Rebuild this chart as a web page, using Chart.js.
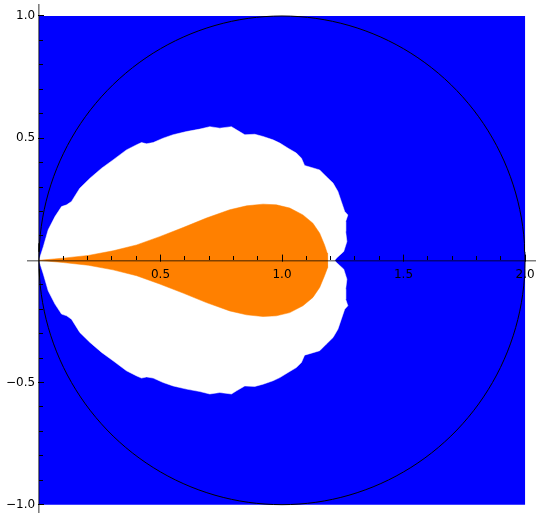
<!DOCTYPE html>
<html>
<head>
<meta charset="utf-8">
<script src="https://cdn.jsdelivr.net/npm/chart.js@4/dist/chart.umd.min.js"></script>
<style>
  html, body { margin: 0; padding: 0; background: #fff; }
</style>
</head>
<body>
<canvas id="region" width="536" height="513"></canvas>
<script>
// tick labels
var xMajorTicks = [0.5, 1.0, 1.5, 2.0];
var yMajorTicks = [-1.0, -0.5, 0.5, 1.0];

// blue square (whole plotted domain)
var squareX = [0, 0, 2, 2, 0];
var squareY = [-1, 1, 1, -1, -1];

// white region, upper half boundary (lower half is its mirror)
var whiteX = [0, 0.018, 0.038, 0.066, 0.093, 0.114, 0.134, 0.168, 0.210, 0.258, 0.305, 0.360, 0.402, 0.422, 0.443, 0.470, 0.511, 0.552, 0.607, 0.662, 0.703, 0.744, 0.792, 0.813, 0.847, 0.888, 0.922, 0.963, 0.991, 1.025, 1.059, 1.080, 1.093, 1.121, 1.155, 1.182, 1.210, 1.230, 1.244, 1.258, 1.271, 1.262, 1.262, 1.267, 1.254, 1.224, 1.217];
var whiteY = [0, 0.056, 0.125, 0.179, 0.220, 0.227, 0.241, 0.295, 0.336, 0.377, 0.411, 0.452, 0.473, 0.482, 0.477, 0.482, 0.500, 0.514, 0.527, 0.537, 0.547, 0.541, 0.547, 0.534, 0.514, 0.516, 0.507, 0.493, 0.480, 0.459, 0.439, 0.418, 0.388, 0.380, 0.370, 0.343, 0.316, 0.282, 0.241, 0.200, 0.186, 0.159, 0.118, 0.077, 0.036, 0.009, 0];

// orange teardrop, upper half boundary
var orangeX = [0, 0.100, 0.203, 0.305, 0.402, 0.497, 0.593, 0.689, 0.785, 0.854, 0.922, 0.977, 1.032, 1.086, 1.127, 1.155, 1.175, 1.186, 1.189];
var orangeY = [0, 0.009, 0.020, 0.039, 0.063, 0.097, 0.134, 0.173, 0.207, 0.223, 0.230, 0.227, 0.214, 0.186, 0.152, 0.111, 0.063, 0.030, 0];

// unit circle around (1, 0)
var circleCenter = [1, 0];
var circleRadius = 1;

function mirrored(xs, ys) {
  var pts = [];
  for (var i = 0; i < xs.length; i++) pts.push({x: xs[i], y: ys[i]});
  for (var j = xs.length - 2; j >= 0; j--) pts.push({x: xs[j], y: -ys[j]});
  return pts;
}

function pairs(xs, ys) {
  return xs.map(function (x, i) { return {x: x, y: ys[i]}; });
}

var circlePts = [];
for (var a = 0; a <= 360; a += 2) {
  var t = a * Math.PI / 180;
  circlePts.push({x: circleCenter[0] + circleRadius * Math.cos(t), y: circleCenter[1] + circleRadius * Math.sin(t)});
}

function minorTicks(from, to) {
  var out = [];
  for (var k = Math.round(from * 10); k <= Math.round(to * 10); k++) {
    if (k % 5 !== 0) out.push({value: k / 10});
  }
  return out;
}

// axes sit inside the plot, so they must not push the chart area around
function noPad(s) {
  s.paddingLeft = s.paddingRight = s.paddingTop = s.paddingBottom = 0;
}

var font = {family: 'DejaVu Sans', size: 12};
var axisColor = 'rgba(0,0,0,0.5)';
var fmt = function (v) { return (v < 0 ? '\u2212' : '') + Math.abs(v).toFixed(1); };

new Chart('region', {
  type: 'scatter',
  data: {
    datasets: [
      {
        data: circlePts, showLine: true, fill: false,
        borderColor: '#000', borderWidth: 1, pointRadius: 0, order: 1
      },
      {
        data: mirrored(orangeX, orangeY), showLine: true, fill: 'shape',
        backgroundColor: '#ff8000', borderColor: '#ff8000', borderWidth: 0.5, pointRadius: 0, order: 2
      },
      {
        data: mirrored(whiteX, whiteY), showLine: true, fill: 'shape',
        backgroundColor: '#ffffff', borderColor: '#ffffff', borderWidth: 0.5, pointRadius: 0, order: 3
      },
      {
        data: pairs(squareX, squareY), showLine: true, fill: 'shape',
        backgroundColor: '#0000ff', borderColor: 'rgba(0,0,0,0)', borderWidth: 0.5, pointRadius: 0, order: 4
      }
    ]
  },
  options: {
    responsive: false,
    animation: false,
    layout: {padding: {left: 28, top: 5, right: 0, bottom: 1}},
    plugins: {legend: {display: false}, tooltip: {enabled: false}},
    scales: {
      x: {
        type: 'linear', min: -0.045, max: 2.045, position: {y: 0},
        afterBuildTicks: function (s) { s.ticks = xMajorTicks.map(function (v) { return {value: v}; }); },
        afterFit: noPad,
        grid: {drawOnChartArea: false, tickLength: -7, tickColor: '#000', tickWidth: 1, z: 1},
        border: {color: axisColor, width: 1.6, z: 1},
        ticks: {padding: 14, color: '#000', font: font, maxRotation: 0, autoSkip: false, callback: fmt, z: 1}
      },
      x2: {
        type: 'linear', min: -0.045, max: 2.045, position: {y: 0},
        afterBuildTicks: function (s) { s.ticks = minorTicks(0.1, 2.0); },
        afterFit: noPad,
        grid: {drawOnChartArea: false, tickLength: -4, tickColor: '#000', tickWidth: 1, z: 1},
        border: {display: false},
        ticks: {display: false}
      },
      y: {
        type: 'linear', min: -1.03, max: 1.045, position: {x: 0},
        afterBuildTicks: function (s) { s.ticks = yMajorTicks.map(function (v) { return {value: v}; }); },
        afterFit: noPad,
        grid: {drawOnChartArea: false, tickLength: -6, tickColor: '#000', tickWidth: 1, z: 1},
        border: {color: axisColor, width: 1.6, z: 1},
        ticks: {color: '#000', font: font, autoSkip: false, callback: function (v) { return fmt(v) + ' '; }, z: 1}
      },
      y2: {
        type: 'linear', min: -1.03, max: 1.045, position: {x: 0},
        afterBuildTicks: function (s) { s.ticks = minorTicks(-1.0, 1.0).filter(function (t) { return t.value !== 0; }); },
        afterFit: noPad,
        grid: {drawOnChartArea: false, tickLength: -4, tickColor: '#000', tickWidth: 1, z: 1},
        border: {display: false},
        ticks: {display: false}
      }
    }
  }
});
</script>
</body>
</html>
